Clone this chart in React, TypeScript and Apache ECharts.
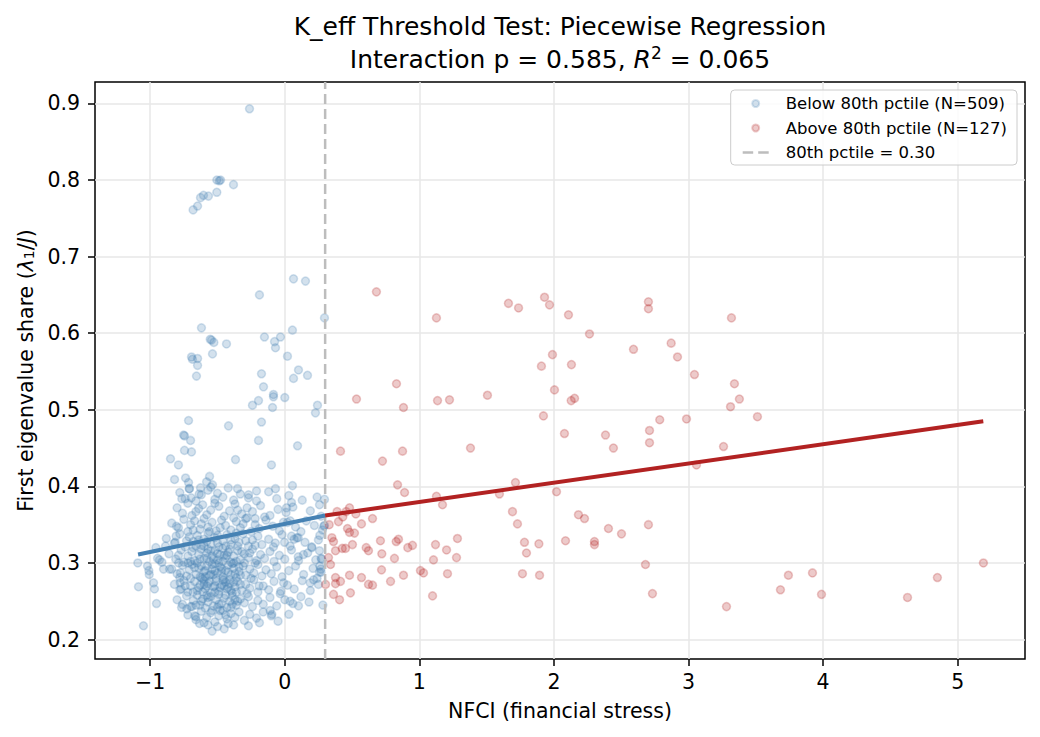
import React, { useEffect, useRef } from 'react';
import * as echarts from 'echarts';

const FONT = "'DejaVu Sans', sans-serif";

// axis limits and ticks
const xLimits = [-1.41, 5.5];
const yLimits = [0.1746, 0.928];
const xTicks = [-1, 0, 1, 2, 3, 4, 5];
const yTicks = [0.2, 0.3, 0.4, 0.5, 0.6, 0.7, 0.8, 0.9];

const threshold = 0.3;

// fitted segments (endpoints)
const belowFit: [number, number][] = [[-1.09, 0.311], [0.3, 0.362]];
const aboveFit: [number, number][] = [[0.3, 0.362], [5.19, 0.485]];

// below-threshold points: sparse upper points
const belowUpper: [number, number][] = [
  [-0.262, 0.893], [-0.505, 0.8], [-0.487, 0.799], [-0.477, 0.8], [-0.381, 0.794], [-0.505, 0.784],
  [-0.567, 0.779], [-0.604, 0.78], [-0.626, 0.777], [-0.648, 0.766], [-0.681, 0.761], [0.065, 0.671],
  [0.154, 0.668], [-0.188, 0.65], [0.295, 0.62], [-0.619, 0.607], [0.057, 0.604], [-0.554, 0.592],
  [-0.544, 0.591], [-0.527, 0.588], [-0.433, 0.586], [-0.151, 0.595], [-0.076, 0.589], [-0.032, 0.595],
  [-0.069, 0.581], [0.02, 0.57], [-0.693, 0.569], [-0.686, 0.566], [-0.648, 0.567], [-0.648, 0.558],
  [-0.537, 0.573], [-0.656, 0.544], [-0.173, 0.547], [0.102, 0.552], [0.169, 0.545], [0.065, 0.541],
  [-0.158, 0.53], [-0.084, 0.52], [-0.084, 0.517], [0.0, 0.516], [-0.195, 0.512], [-0.24, 0.506],
  [-0.091, 0.503], [0.243, 0.506], [0.228, 0.496], [-0.715, 0.486], [-0.173, 0.484], [-0.418, 0.479],
  [-0.752, 0.467], [-0.745, 0.466], [-0.7, 0.46], [-0.195, 0.46], [-0.745, 0.447], [-0.693, 0.445],
  [0.095, 0.453], [-0.849, 0.436], [-0.366, 0.435], [-0.79, 0.428], [-0.099, 0.428], [-0.819, 0.409],
  [-0.737, 0.411], [-0.559, 0.413], [-0.581, 0.406], [-0.537, 0.402], [-0.715, 0.405], [-0.626, 0.398],
  [-0.351, 0.397], [-0.269, 0.389], [-0.21, 0.394], [-0.069, 0.397], [0.057, 0.401], [0.295, 0.383],
  [0.258, 0.376], [0.05, 0.379], [0.013, 0.372], [-0.765, 0.384], [-0.695, 0.385], [-0.636, 0.39],
  [-0.708, 0.397],
];

// below-threshold points: edges of the main cloud
const belowEdges: [number, number][] = [
  [-1.092, 0.3], [-1.087, 0.269], [-1.05, 0.218], [-1.02, 0.296], [-1.007, 0.285], [-1.01, 0.29],
  [-0.975, 0.274], [-0.968, 0.266], [-0.953, 0.247], [-0.958, 0.32], [-0.945, 0.306], [-0.931, 0.304],
  [-0.913, 0.301], [-0.886, 0.322], [-0.901, 0.292], [-0.856, 0.292], [-0.804, 0.348], [-0.807, 0.335],
  [-0.814, 0.327], [-0.789, 0.3], [-0.775, 0.287], [-0.777, 0.274], [-0.77, 0.266], [-0.767, 0.242],
  [-0.728, 0.24], [-0.69, 0.243], [-0.67, 0.231], [-0.661, 0.23], [-0.633, 0.221],
  [-0.002, 0.327], [-0.084, 0.321], [0.05, 0.335], [0.07, 0.331], [0.1, 0.333], [0.25, 0.33],
  [0.201, 0.32], [0.258, 0.316], [0.139, 0.311], [0.102, 0.303], [0.275, 0.305], [0.189, 0.274],
  [0.214, 0.278], [0.258, 0.288], [0.268, 0.292], [0.283, 0.245], [0.102, 0.244], [0.04, 0.25],
  [-0.034, 0.26], [-0.009, 0.274], [-0.109, 0.238], [-0.096, 0.233], [-0.188, 0.222], [-0.27, 0.218],
  [0.29, 0.348], [0.27, 0.306], [0.26, 0.296], [0.24, 0.28], [-0.28, 0.359], [-0.22, 0.358],
  [-0.15, 0.36], [0.04, 0.355], [-0.01, 0.353], [0.295, 0.349],
];

// below-threshold points: dense core
const belowCore: [number, number][] = [
  [-0.78, 0.392], [-0.74, 0.384], [-0.71, 0.397], [-0.66, 0.381], [-0.62, 0.389], [-0.57, 0.395],
  [-0.52, 0.383], [-0.5, 0.391], [-0.46, 0.386], [-0.42, 0.398], [-0.38, 0.382], [-0.33, 0.39],
  [-0.27, 0.385], [-0.21, 0.381], [-0.12, 0.393], [-0.06, 0.384], [0.03, 0.388], [0.13, 0.382],
  [0.24, 0.386], [-0.55, 0.399],
  [-0.8, 0.372], [-0.76, 0.365], [-0.72, 0.378], [-0.69, 0.362], [-0.64, 0.371], [-0.61, 0.376],
  [-0.58, 0.363], [-0.55, 0.369], [-0.49, 0.374], [-0.45, 0.361], [-0.41, 0.368], [-0.37, 0.377],
  [-0.32, 0.364], [-0.28, 0.372], [-0.24, 0.367], [-0.18, 0.375], [-0.11, 0.362], [-0.05, 0.37],
  [0.01, 0.366], [0.06, 0.373], [0.19, 0.368], [0.27, 0.361], [-0.66, 0.367], [-0.52, 0.378],
  [-0.35, 0.369],
  [-0.84, 0.352], [-0.79, 0.346], [-0.75, 0.357], [-0.72, 0.341], [-0.7, 0.35], [-0.67, 0.355],
  [-0.63, 0.344], [-0.6, 0.358], [-0.57, 0.347], [-0.54, 0.353], [-0.51, 0.342], [-0.47, 0.356],
  [-0.44, 0.349], [-0.4, 0.343], [-0.36, 0.354], [-0.33, 0.346], [-0.29, 0.358], [-0.25, 0.341],
  [-0.22, 0.35], [-0.19, 0.345], [-0.14, 0.356], [-0.09, 0.348], [-0.04, 0.342], [0.02, 0.353],
  [0.08, 0.347], [0.12, 0.341], [0.16, 0.355], [0.22, 0.349], [0.28, 0.343], [-0.62, 0.351],
  [-0.48, 0.346], [-0.38, 0.359], [-0.31, 0.351], [-0.68, 0.343], [-0.56, 0.341],
  [-0.88, 0.332], [-0.82, 0.326], [-0.78, 0.338], [-0.74, 0.321], [-0.71, 0.334], [-0.68, 0.328],
  [-0.65, 0.336], [-0.62, 0.323], [-0.6, 0.331], [-0.57, 0.339], [-0.55, 0.325], [-0.52, 0.333],
  [-0.49, 0.321], [-0.46, 0.329], [-0.43, 0.337], [-0.4, 0.324], [-0.37, 0.332], [-0.34, 0.327],
  [-0.31, 0.338], [-0.27, 0.322], [-0.24, 0.33], [-0.2, 0.335], [-0.17, 0.324], [-0.12, 0.331],
  [-0.07, 0.326], [-0.02, 0.337], [0.04, 0.322], [0.09, 0.333], [0.15, 0.327], [0.2, 0.321],
  [0.26, 0.336], [-0.66, 0.322], [-0.58, 0.328], [-0.5, 0.336], [-0.44, 0.322], [-0.36, 0.339],
  [-0.29, 0.329], [-0.22, 0.323], [-0.73, 0.329], [-0.64, 0.33],
  [-0.86, 0.312], [-0.81, 0.305], [-0.77, 0.317], [-0.75, 0.301], [-0.72, 0.309], [-0.69, 0.315],
  [-0.67, 0.303], [-0.64, 0.311], [-0.62, 0.318], [-0.6, 0.306], [-0.58, 0.313], [-0.56, 0.302],
  [-0.54, 0.309], [-0.52, 0.316], [-0.5, 0.304], [-0.48, 0.311], [-0.46, 0.319], [-0.44, 0.307],
  [-0.42, 0.314], [-0.4, 0.301], [-0.38, 0.309], [-0.35, 0.316], [-0.33, 0.304], [-0.3, 0.312],
  [-0.27, 0.307], [-0.24, 0.318], [-0.21, 0.303], [-0.18, 0.311], [-0.15, 0.306], [-0.11, 0.315],
  [-0.08, 0.302], [-0.04, 0.31], [0.0, 0.305], [0.05, 0.317], [0.1, 0.308], [0.17, 0.313],
  [0.23, 0.304], [-0.79, 0.31], [-0.7, 0.302], [-0.63, 0.305], [-0.57, 0.318], [-0.49, 0.3],
  [-0.41, 0.318], [-0.36, 0.302], [-0.26, 0.313],
  [-0.84, 0.292], [-0.8, 0.286], [-0.76, 0.297], [-0.73, 0.283], [-0.71, 0.291], [-0.69, 0.298],
  [-0.66, 0.285], [-0.64, 0.293], [-0.62, 0.281], [-0.6, 0.289], [-0.58, 0.296], [-0.56, 0.284],
  [-0.54, 0.292], [-0.52, 0.299], [-0.5, 0.287], [-0.48, 0.295], [-0.46, 0.282], [-0.44, 0.29],
  [-0.42, 0.297], [-0.4, 0.285], [-0.38, 0.293], [-0.36, 0.281], [-0.34, 0.289], [-0.31, 0.296],
  [-0.29, 0.284], [-0.26, 0.292], [-0.23, 0.287], [-0.2, 0.298], [-0.17, 0.283], [-0.14, 0.291],
  [-0.1, 0.286], [-0.06, 0.295], [-0.02, 0.282], [0.03, 0.29], [0.08, 0.296], [0.14, 0.285],
  [0.21, 0.293], [0.27, 0.288], [-0.78, 0.281], [-0.67, 0.294], [-0.59, 0.282], [-0.53, 0.285],
  [-0.47, 0.289], [-0.39, 0.299], [-0.33, 0.284],
  [-0.82, 0.272], [-0.78, 0.265], [-0.75, 0.277], [-0.72, 0.262], [-0.7, 0.27], [-0.67, 0.276],
  [-0.65, 0.264], [-0.63, 0.271], [-0.61, 0.279], [-0.59, 0.266], [-0.57, 0.273], [-0.55, 0.261],
  [-0.53, 0.269], [-0.51, 0.276], [-0.49, 0.263], [-0.47, 0.271], [-0.45, 0.278], [-0.43, 0.266],
  [-0.41, 0.273], [-0.39, 0.261], [-0.37, 0.269], [-0.35, 0.276], [-0.32, 0.264], [-0.29, 0.272],
  [-0.26, 0.267], [-0.23, 0.278], [-0.2, 0.262], [-0.16, 0.27], [-0.12, 0.265], [-0.08, 0.276],
  [-0.03, 0.263], [0.02, 0.271], [0.07, 0.266], [0.13, 0.277], [0.19, 0.264], [0.25, 0.272],
  [-0.68, 0.262], [-0.6, 0.277], [-0.52, 0.262], [-0.44, 0.275],
  [-0.8, 0.252], [-0.76, 0.246], [-0.73, 0.257], [-0.7, 0.243], [-0.68, 0.251], [-0.65, 0.258],
  [-0.63, 0.245], [-0.61, 0.253], [-0.59, 0.241], [-0.57, 0.249], [-0.55, 0.256], [-0.53, 0.244],
  [-0.51, 0.252], [-0.49, 0.259], [-0.47, 0.247], [-0.45, 0.254], [-0.43, 0.242], [-0.41, 0.25],
  [-0.39, 0.257], [-0.36, 0.245], [-0.33, 0.253], [-0.3, 0.248], [-0.27, 0.256], [-0.24, 0.243],
  [-0.2, 0.251], [-0.16, 0.246], [-0.11, 0.255], [-0.06, 0.244], [0.0, 0.252], [0.06, 0.247],
  [0.12, 0.256], [0.18, 0.249], [-0.58, 0.258], [-0.5, 0.242], [-0.37, 0.252],
  [-0.72, 0.232], [-0.66, 0.226], [-0.62, 0.237], [-0.58, 0.229], [-0.55, 0.235], [-0.52, 0.223],
  [-0.49, 0.231], [-0.46, 0.238], [-0.43, 0.227], [-0.4, 0.234], [-0.37, 0.229], [-0.34, 0.236],
  [-0.3, 0.225], [-0.26, 0.233], [-0.21, 0.228], [-0.16, 0.236], [-0.1, 0.231], [-0.05, 0.224],
  [0.03, 0.233], [-0.6, 0.222],
  [-0.54, 0.211], [-0.5, 0.217], [-0.45, 0.214], [-0.38, 0.219], [-0.57, 0.219], [-0.42, 0.221],
];

// below-threshold points: extra overlap in the densest part of the cloud
const belowDense: [number, number][] = [
  [-0.64, 0.268], [-0.62, 0.296], [-0.6, 0.272], [-0.58, 0.306], [-0.56, 0.276], [-0.54, 0.298],
  [-0.52, 0.27], [-0.5, 0.312], [-0.48, 0.268], [-0.46, 0.302], [-0.44, 0.258], [-0.42, 0.288],
  [-0.4, 0.264], [-0.38, 0.3], [-0.36, 0.262], [-0.34, 0.295], [-0.63, 0.282], [-0.61, 0.262],
  [-0.59, 0.29], [-0.57, 0.255], [-0.55, 0.285], [-0.53, 0.305], [-0.51, 0.28], [-0.49, 0.246],
  [-0.47, 0.293], [-0.45, 0.27], [-0.43, 0.31], [-0.41, 0.278], [-0.39, 0.246], [-0.37, 0.286],
  [-0.35, 0.25], [-0.33, 0.272], [-0.65, 0.3], [-0.6, 0.322], [-0.55, 0.316], [-0.5, 0.326],
  [-0.45, 0.31], [-0.4, 0.33], [-0.35, 0.322], [-0.3, 0.3], [-0.28, 0.26], [-0.25, 0.28],
  [-0.22, 0.3], [-0.19, 0.27], [-0.7, 0.28], [-0.72, 0.3], [-0.68, 0.32], [-0.74, 0.27],
  [-0.66, 0.245], [-0.62, 0.25], [-0.54, 0.238], [-0.48, 0.238], [-0.44, 0.232], [-0.4, 0.242],
  [-0.58, 0.27], [-0.52, 0.29], [-0.46, 0.278], [-0.42, 0.268], [-0.38, 0.275], [-0.32, 0.315],
];

// above-threshold points
const abovePoints: [number, number][] = [
  [0.681, 0.654], [1.127, 0.62], [1.662, 0.639], [1.737, 0.633], [1.93, 0.647], [1.967, 0.637],
  [2.108, 0.624], [2.264, 0.599], [2.702, 0.641], [2.702, 0.632], [2.871, 0.587], [2.918, 0.569],
  [2.591, 0.579], [1.989, 0.572], [1.907, 0.557], [2.13, 0.559], [2.004, 0.526], [2.128, 0.512],
  [2.153, 0.515], [0.83, 0.534], [0.533, 0.514], [0.882, 0.503], [1.135, 0.512], [1.224, 0.513],
  [1.506, 0.519], [1.922, 0.492], [2.078, 0.469], [2.383, 0.467], [2.442, 0.45], [2.71, 0.473],
  [2.71, 0.457], [2.786, 0.487], [0.414, 0.446], [0.875, 0.446], [0.726, 0.433], [1.38, 0.45],
  [0.838, 0.402], [0.89, 0.392], [1.714, 0.405], [1.595, 0.39], [2.019, 0.393], [1.127, 0.387],
  [1.172, 0.376], [0.389, 0.367], [0.481, 0.372], [0.456, 0.367], [0.431, 0.36], [0.528, 0.364],
  [0.399, 0.354], [0.652, 0.358], [0.57, 0.351], [0.466, 0.345], [0.481, 0.34], [0.518, 0.339],
  [1.692, 0.367], [1.729, 0.351], [2.182, 0.363], [2.227, 0.358], [2.405, 0.345], [2.502, 0.338],
  [2.702, 0.35], [0.362, 0.328], [0.503, 0.324], [0.377, 0.316], [0.427, 0.319], [0.451, 0.319],
  [0.605, 0.32], [0.622, 0.316], [0.711, 0.329], [0.828, 0.328], [0.845, 0.331], [0.721, 0.312],
  [0.914, 0.32], [0.949, 0.323], [1.12, 0.324], [1.202, 0.317], [1.283, 0.332], [0.815, 0.306],
  [1.105, 0.304], [1.276, 0.307], [0.325, 0.307], [1.781, 0.327], [1.796, 0.313], [1.888, 0.325],
  [2.086, 0.329], [2.301, 0.328], [2.301, 0.324], [0.377, 0.281], [0.377, 0.273], [0.414, 0.276],
  [0.481, 0.284], [0.57, 0.281], [0.622, 0.272], [0.652, 0.271], [0.719, 0.291], [0.786, 0.276],
  [0.882, 0.284], [1.008, 0.29], [1.031, 0.287], [1.209, 0.286], [1.766, 0.286], [1.893, 0.284],
  [2.68, 0.298], [2.732, 0.26], [0.362, 0.259], [0.407, 0.252], [0.488, 0.261], [1.098, 0.257],
  [0.303, 0.272], [3.319, 0.62], [3.044, 0.546], [3.341, 0.534], [3.378, 0.514], [3.312, 0.504],
  [2.985, 0.488], [3.512, 0.491], [3.26, 0.452], [3.059, 0.428], [3.742, 0.284], [3.921, 0.287],
  [3.683, 0.265], [3.988, 0.259], [3.282, 0.243], [4.627, 0.255], [4.849, 0.281], [5.191, 0.3],
  [0.33, 0.35], [0.35, 0.333], [0.34, 0.298],
];

const belowName = 'Below 80th pctile (N=509)';
const aboveName = 'Above 80th pctile (N=127)';
const thresholdName = '80th pctile = 0.30';

const BLUE = '#4682b4';
const RED = '#b22222';
const GREY = '#bdbdbd';

// two short dashes; the tiny corner squares only pin the icon's box to 26x7
const dashIcon =
  'path://M0,2.3h10.5v2.4h-10.5z M15.5,2.3h10.5v2.4h-10.5z M0,0h0.01v0.01h-0.01z M25.99,6.99h0.01v0.01h-0.01z';

const App: React.FC = () => {
  const chartRef = useRef<HTMLDivElement>(null);

  useEffect(() => {
    if (!chartRef.current) return;
    const chart = echarts.init(chartRef.current, null, { renderer: 'svg' });

    const option = {
      animation: false,
      backgroundColor: '#ffffff',
      textStyle: { fontFamily: FONT },
      graphic: [
        {
          type: 'text',
          x: 560,
          y: 26,
          style: {
            text: 'K_eff Threshold Test: Piecewise Regression',
            fontFamily: FONT,
            fontSize: 25,
            fill: '#000',
            textAlign: 'center',
            textVerticalAlign: 'middle',
          },
        },
        {
          type: 'text',
          x: 560,
          y: 59,
          style: {
            text: 'Interaction p = 0.585, {i|R}{sup|2} = 0.065',
            fontFamily: FONT,
            fontSize: 25,
            lineHeight: 30,
            fill: '#000',
            textAlign: 'center',
            textVerticalAlign: 'middle',
            rich: {
              i: { fontFamily: FONT, fontSize: 25, fontStyle: 'italic', lineHeight: 30 },
              sup: { fontFamily: FONT, fontSize: 17, lineHeight: 17, verticalAlign: 'top' },
            },
          },
        },
      ],
      legend: {
        orient: 'vertical',
        right: 23,
        top: 90,
        padding: [5, 10, 4, 12],
        itemGap: 7.5,
        itemWidth: 26,
        itemHeight: 7,
        backgroundColor: 'rgba(255,255,255,0.8)',
        borderColor: '#cccccc',
        borderWidth: 1,
        borderRadius: 4,
        textStyle: { fontFamily: FONT, fontSize: 16.5, color: '#000', padding: [0, 0, 0, 12] },
        data: [
          { name: belowName, icon: 'circle' },
          { name: aboveName, icon: 'circle' },
          { name: thresholdName, icon: dashIcon, itemStyle: { color: GREY, borderWidth: 0 } },
        ],
      },
      grid: {
        left: 95,
        right: 15,
        top: 82,
        bottom: 78,
        show: true,
        borderColor: '#000',
        borderWidth: 1.5,
      },
      xAxis: {
        type: 'value',
        min: xLimits[0],
        max: xLimits[1],
        splitNumber: 7,
        name: 'NFCI (financial stress)',
        nameLocation: 'middle',
        nameGap: 41,
        nameTextStyle: { fontFamily: FONT, fontSize: 20.5, color: '#000' },
        axisLine: { show: false, onZero: false },
        axisTick: {
          show: true,
          length: 7,
          lineStyle: { color: '#000', width: 1.5 },
          customValues: xTicks,
        },
        axisLabel: {
          fontFamily: FONT,
          fontSize: 20.5,
          color: '#000',
          margin: 12,
          customValues: xTicks,
          formatter: (v: number) => String(v).replace('-', '\u2212'),
        },
        splitLine: { show: true, lineStyle: { color: '#e7e7e7', width: 1.5 } },
      },
      yAxis: {
        type: 'value',
        min: yLimits[0],
        max: yLimits[1],
        splitNumber: 8,
        name: 'First eigenvalue share ({i|λ}{sub|1}/{i|J})',
        nameLocation: 'middle',
        nameGap: 58,
        nameTextStyle: {
          fontFamily: FONT,
          fontSize: 20.5,
          color: '#000',
          rich: {
            i: { fontFamily: FONT, fontSize: 20.5, fontStyle: 'italic' },
            sub: { fontFamily: FONT, fontSize: 14, verticalAlign: 'bottom' },
          },
        },
        axisLine: { show: false, onZero: false },
        axisTick: {
          show: true,
          length: 7,
          lineStyle: { color: '#000', width: 1.5 },
          customValues: yTicks,
        },
        axisLabel: {
          fontFamily: FONT,
          fontSize: 20.5,
          color: '#000',
          margin: 15,
          customValues: yTicks,
          formatter: (v: number) => v.toFixed(1),
        },
        splitLine: { show: true, lineStyle: { color: '#e7e7e7', width: 1.5 } },
      },
      series: [
        {
          name: belowName,
          type: 'scatter',
          symbol: 'circle',
          symbolSize: 8,
          data: [...belowUpper, ...belowEdges, ...belowCore, ...belowDense],
          itemStyle: {
            color: 'rgba(70,130,180,0.3)',
            borderColor: 'rgba(70,130,180,0.3)',
            borderWidth: 1.5,
          },
          z: 2,
        },
        {
          name: aboveName,
          type: 'scatter',
          symbol: 'circle',
          symbolSize: 8,
          data: abovePoints,
          itemStyle: {
            color: 'rgba(178,34,34,0.3)',
            borderColor: 'rgba(178,34,34,0.3)',
            borderWidth: 1.5,
          },
          z: 2,
        },
        {
          name: thresholdName,
          type: 'line',
          symbol: 'none',
          data: [[threshold, yLimits[0]], [threshold, yLimits[1]]],
          lineStyle: { color: GREY, width: 2.5, type: [10, 5] },
          itemStyle: { color: GREY },
          z: 3,
        },
        {
          name: 'below fit',
          type: 'line',
          symbol: 'none',
          data: belowFit,
          lineStyle: { color: BLUE, width: 4 },
          itemStyle: { color: BLUE },
          z: 4,
        },
        {
          name: 'above fit',
          type: 'line',
          symbol: 'none',
          data: aboveFit,
          lineStyle: { color: RED, width: 4 },
          itemStyle: { color: RED },
          z: 4,
        },
      ],
    };

    chart.setOption(option);

    return () => {
      chart.dispose();
    };
  }, []);

  return (
    <div
      ref={chartRef}
      style={{ position: 'absolute', left: 0, top: 0, width: '1040px', height: '737px' }}
    />
  );
};

export default App;
